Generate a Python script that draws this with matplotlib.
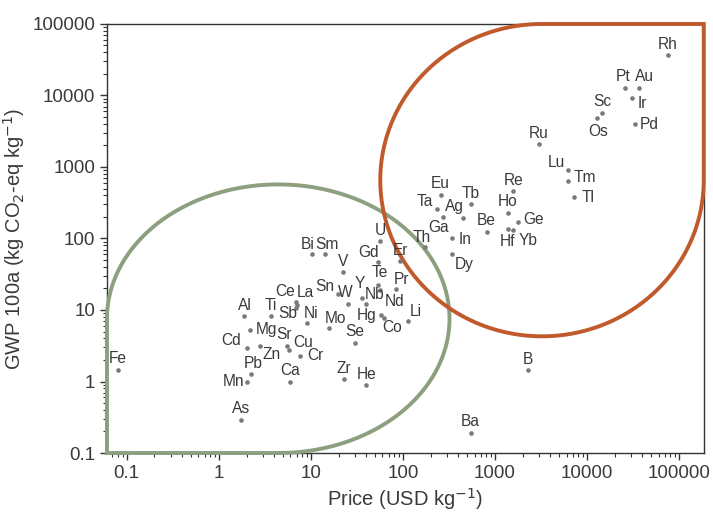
import numpy as np
import matplotlib
matplotlib.use("Agg")
import matplotlib.pyplot as plt
from matplotlib.path import Path
from matplotlib.patches import PathPatch
from matplotlib.ticker import LogLocator, FixedLocator, FixedFormatter, NullFormatter

plt.rcParams['font.family'] = ['Liberation Sans', 'DejaVu Sans']

# --- data ---
elements = ['Fe', 'Al', 'Ti', 'Ce', 'La', 'Sb', 'Ni', 'Mg', 'Cd', 'Zn', 'Sr', 'Cu', 'Cr',
            'Pb', 'Mn', 'As', 'Ca', 'Zr', 'He', 'Mo', 'Se', 'Hg', 'Co', 'Li', 'Nd', 'Pr',
            'Te', 'Gd', 'U', 'Er', 'V', 'Sn', 'W', 'Y', 'Nb', 'Bi', 'Sm', 'Th', 'Eu', 'Ta',
            'Ag', 'Ga', 'Tb', 'In', 'Dy', 'Be', 'Re', 'Ho', 'Ge', 'Hf', 'Yb', 'Rh', 'Pt',
            'Au', 'Ir', 'Pd', 'Sc', 'Os', 'Ru', 'Lu', 'Tm', 'Tl', 'B', 'Ba']
price = [0.08, 1.9, 3.7, 6.9, 7.0, 6.9, 9.1, 2.2, 2.0, 2.8, 5.5, 5.8, 7.6,
         2.26, 2.0, 1.73, 5.9, 23, 40, 15.8, 30, 58, 62, 114, 56, 84,
         54, 54, 57, 94, 22.5, 19.8, 25.4, 35.5, 40, 10.2, 14.2, 173, 256, 236,
         452, 274, 543, 339, 345, 810, 1580, 1370, 1780, 1370, 1560, 75000, 25800,
         36700, 30500, 33400, 14700, 12700, 3010, 6140, 6140, 7200, 2300, 543]
gwp = [1.47, 8.2, 8.2, 13.0, 11.7, 10.8, 6.5, 5.3, 2.96, 3.1, 3.15, 2.8, 2.3,
       1.29, 1.0, 0.29, 1.0, 1.07, 0.89, 5.6, 3.5, 8.5, 7.8, 7.1, 19, 19.5,
       22.3, 47, 92, 48, 33.5, 17, 12.3, 14.5, 12.3, 60, 60, 75, 406, 262,
       196, 201, 299, 102, 60, 124, 459, 228, 171, 134, 131, 36700, 12800,
       12800, 9140, 3940, 5720, 4770, 2070, 907, 642, 375, 1.44, 0.193]

# label offsets from the dot, in pixels (right, up); default is straight above
label_offset = {
    'Ce': (-11, 10), 'La': (9, 13), 'Sb': (-8, -6), 'Ni': (4, 10), 'Mg': (16, 0),
    'Cd': (-15, 7), 'Sr': (-3, 11), 'Cu': (14, 7), 'Zn': (12, -8), 'Cr': (15, 0),
    'Pb': (2, 10), 'Mn': (-13, 0), 'Mo': (6, 10), 'Hg': (-15, 0), 'Co': (8, -10),
    'Li': (8, 9), 'Nd': (15, -11), 'Pr': (6, 10), 'Te': (2, 13), 'Gd': (-10, 9),
    'Sn': (-13, 7), 'W': (-3, 11), 'Y': (-2, 15), 'Nb': (8, 9), 'Bi': (-4, 10),
    'Sm': (2, 10), 'Th': (-3, 10), 'Ta': (-12, 7), 'Ag': (-9, 11), 'Ga': (-5, -11),
    'In': (13, -2), 'Dy': (12, -10), 'Ge': (16, 2), 'Hf': (0, -12), 'Yb': (15, -10),
    'Pt': (-2, 11), 'Au': (5, 11), 'Ir': (11, -5), 'Pd': (14, 0), 'Os': (2, -13),
    'Lu': (-11, 8), 'Tm': (17, 3), 'Tl': (14, 0),
}

fig = plt.figure(figsize=(7.13, 5.21), dpi=100)
ax = fig.add_axes([0.150, 0.1305, 0.837, 0.8235])

ax.scatter(price, gwp, s=11, color='#7a7a7a', zorder=4, linewidths=0)

for el, x, y in zip(elements, price, gwp):
    dx, dy = label_offset.get(el, (0, 11))
    ax.annotate(el, (x, y), xytext=(dx * 0.72, dy * 0.72), textcoords='offset points',
                ha='center', va='center', fontsize=11.2, color='#3a3a3a', zorder=5)

ax.set_xscale('log')
ax.set_yscale('log')
ax.set_xlim(0.061, 1.85e5)
ax.set_ylim(0.1, 1e5)

decades = [0.1, 1, 10, 100, 1000, 10000, 100000]
dec_labels = ['0.1', '1', '10', '100', '1000', '10000', '100000']
for axis in (ax.xaxis, ax.yaxis):
    axis.set_major_locator(FixedLocator(decades))
    axis.set_major_formatter(FixedFormatter(dec_labels))
    axis.set_minor_locator(LogLocator(base=10, subs=np.arange(2, 10), numticks=20))
    axis.set_minor_formatter(NullFormatter())

ax.tick_params(which='major', direction='out', length=5, width=1, labelsize=13.5,
               colors='#333333', labelcolor='#3a3a3a')
ax.tick_params(which='minor', direction='out', length=3, width=0.8, colors='#333333')
for sp in ax.spines.values():
    sp.set_color('#333333')
    sp.set_linewidth(1)

ax.set_xlabel('Price (USD kg$^{-1}$)', fontsize=14.5, color='#3a3a3a', labelpad=3)
ax.set_ylabel('GWP 100a (kg CO$_2$-eq kg$^{-1}$)', fontsize=14.5, color='#3a3a3a', labelpad=4)


# rounded outlines with one square corner (axes fraction coordinates)
def corner_blob(cx, cy, rx, ry, corner):
    if corner == 'lower left':
        t = np.linspace(-np.pi / 2, np.pi, 200)
        start = [(0, cy), (0, 0), (cx, 0)]
    else:
        t = np.linspace(np.pi / 2, 2 * np.pi, 200)
        start = [(1, cy), (1, 1), (cx, 1)]
    arc = np.column_stack([cx + rx * np.cos(t), cy + ry * np.sin(t)])
    verts = np.vstack([start, arc, [start[0]]])
    codes = [Path.MOVETO] + [Path.LINETO] * (len(verts) - 2) + [Path.CLOSEPOLY]
    return Path(verts, codes)


green = PathPatch(corner_blob(0.287, 0.313, 0.287, 0.313, 'lower left'),
                  transform=ax.transAxes, facecolor='none', edgecolor='#8c9f7f',
                  lw=2.8, zorder=3, clip_on=False, joinstyle='miter')
orange = PathPatch(corner_blob(0.729, 0.636, 0.271, 0.364, 'upper right'),
                   transform=ax.transAxes, facecolor='none', edgecolor='#c05a2c',
                   lw=2.8, zorder=3, clip_on=False, joinstyle='miter')
ax.add_patch(green)
ax.add_patch(orange)

fig.savefig('out.png', dpi=100)
